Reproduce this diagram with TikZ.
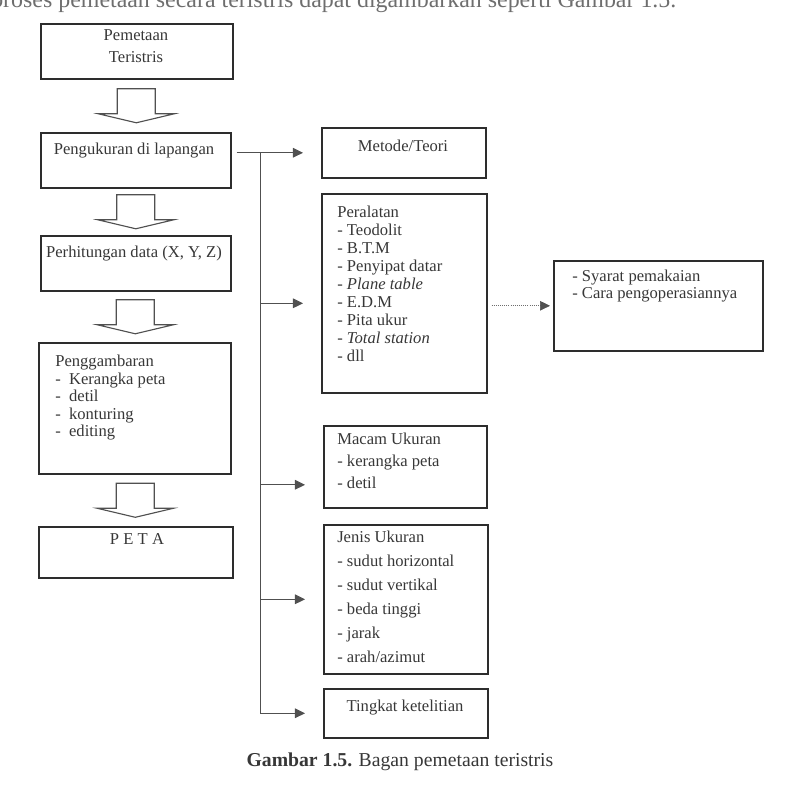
\documentclass[tikz,border=0pt]{standalone}
\usepackage{fontspec}
\setmainfont{Liberation Serif}
\usepackage{tikz}
\usetikzlibrary{arrows.meta, calc}
\definecolor{ink}{RGB}{55, 55, 55}
\definecolor{edge}{RGB}{45, 45, 45}
\definecolor{wire}{RGB}{80, 80, 80}
\definecolor{faint}{RGB}{110, 110, 110}

\begin{document}
\begin{tikzpicture}[
  x=0.025cm, y=-0.025cm,
  box/.style={draw=edge, line width=1.1pt, anchor=north west, inner sep=0pt},
  txt/.style={inner sep=0pt, text=ink, font=\fontsize{11.8}{12.8}\selectfont, align=left, anchor=north west},
  ctxt/.style={txt, align=center, anchor=north},
  hollow/.style={draw=wire, line width=0.8pt, line join=miter},
  feed/.style={draw=wire, line width=0.7pt, -{Triangle[length=0.25cm, width=0.24cm]}, shorten >=0.45cm},
  dotfeed/.style={draw=faint, line width=0.5pt, densely dotted, -{Triangle[length=0.25cm, width=0.24cm, color=wire]}, shorten >=0.075cm, shorten <=0.1cm}
]
  \useasboundingbox (0,0) rectangle (800,804);
  \clip (0,0) rectangle (800,804);

  % Line of body text cut by the page edge
  \node[anchor=base west, inner sep=0pt, text=faint, font=\fontsize{17}{20}\selectfont] (intro) at (-9,7) {proses pemetaan secara teristris dapat digambarkan seperti Gambar 1.5.};

  % Main flow
  \node[box, minimum width=4.8cm, minimum height=1.375cm] (pem) at (40,23) {};
  \node[box, minimum width=4.75cm, minimum height=1.375cm] (ukur) at (40,132) {};
  \node[box, minimum width=4.75cm, minimum height=1.375cm] (hitung) at (40,235) {};
  \node[box, minimum width=4.8cm, minimum height=3.275cm] (gambar) at (38,342) {};
  \node[box, minimum width=4.85cm, minimum height=1.275cm] (peta) at (38,526) {};

  % Right column
  \node[box, minimum width=4.1cm, minimum height=1.25cm] (metode) at (321,127) {};
  \node[box, minimum width=4.125cm, minimum height=4.975cm] (alat) at (321,193) {};
  \node[box, minimum width=5.225cm, minimum height=2.25cm] (syarat) at (553,260) {};
  \node[box, minimum width=4.075cm, minimum height=2.05cm] (macam) at (323,425) {};
  \node[box, minimum width=4.1cm, minimum height=3.725cm] (jenis) at (323,524) {};
  \node[box, minimum width=4.1cm, minimum height=1.225cm] (tingkat) at (323,688) {};

  % Box texts
  \node[ctxt, font=\fontsize{11.8}{15.6}\selectfont] (pemT) at (136,29) {Pemetaan\\Teristris};
  \node[ctxt] (ukurT) at (134,143) {Pengukuran di lapangan};
  \node[ctxt] (hitungT) at (134,246) {Perhitungan data (X, Y, Z)};
  \node[txt, font=\fontsize{11.8}{12.4}\selectfont] (gambarT) at (55,355) {Penggambaran\\-\ \ Kerangka peta\\-\ \ detil\\-\ \ konturing\\-\ \ editing};
  \node[ctxt] (petaT) at (137,533) {P\hspace{3pt}E\hspace{3pt}T\hspace{3pt}A};
  \node[ctxt] (metodeT) at (403,140) {Metode/Teori};
  \node[txt] (alatT) at (337,206) {Peralatan\\- Teodolit\\- B.T.M\\- Penyipat datar\\- \textit{Plane table}\\- E.D.M\\- Pita ukur\\- \textit{Total station}\\- dll};
  \node[txt, font=\fontsize{11.8}{11.6}\selectfont] (syaratT) at (572,270) {- Syarat pemakaian\\- Cara pengoperasiannya};
  \node[txt, font=\fontsize{11.8}{15.6}\selectfont] (macamT) at (337,433) {Macam Ukuran\\- kerangka peta\\- detil};
  \node[txt, font=\fontsize{11.8}{17}\selectfont] (jenisT) at (337,531) {Jenis Ukuran\\- sudut horizontal\\- sudut vertikal\\- beda tinggi\\- jarak\\- arah/azimut};
  \node[ctxt] (tingkatT) at (405,700) {Tingkat ketelitian};

  % Hollow arrows down the main flow
  \foreach \a/\b in {pem/ukur, ukur/hitung, hitung/gambar, gambar/peta}
    \draw[hollow] ($(\a.south)!0.5!(\b.north)$) +(-19,-17) -- +(-19,8) -- +(-38,8) -- +(0,17) -- +(38,8) -- +(19,8) -- +(19,-17) -- cycle;

  % Branches
  \coordinate (trunk) at (260,152);
  \draw[feed, shorten <=0.125cm] (ukur.east |- metode.west) -- (metode.west);
  \draw[draw=wire, line width=0.7pt] (trunk) -- (trunk |- tingkat.west);
  \foreach \b/\dy in {alat/-0.25, macam/-0.45, jenis/0, tingkat/0}
    \draw[feed] ([yshift=\dy cm]\b.west -| trunk) -- ([yshift=\dy cm]\b.west);
  \draw[dotfeed] (alat.east |- syarat.west) -- (syarat.west);

  % Caption
  \node[inner sep=0pt, text=ink, font=\fontsize{14}{16}\selectfont] (caption) at (400,762) {\textbf{Gambar 1.5.} Bagan pemetaan teristris};
\end{tikzpicture}
\end{document}
